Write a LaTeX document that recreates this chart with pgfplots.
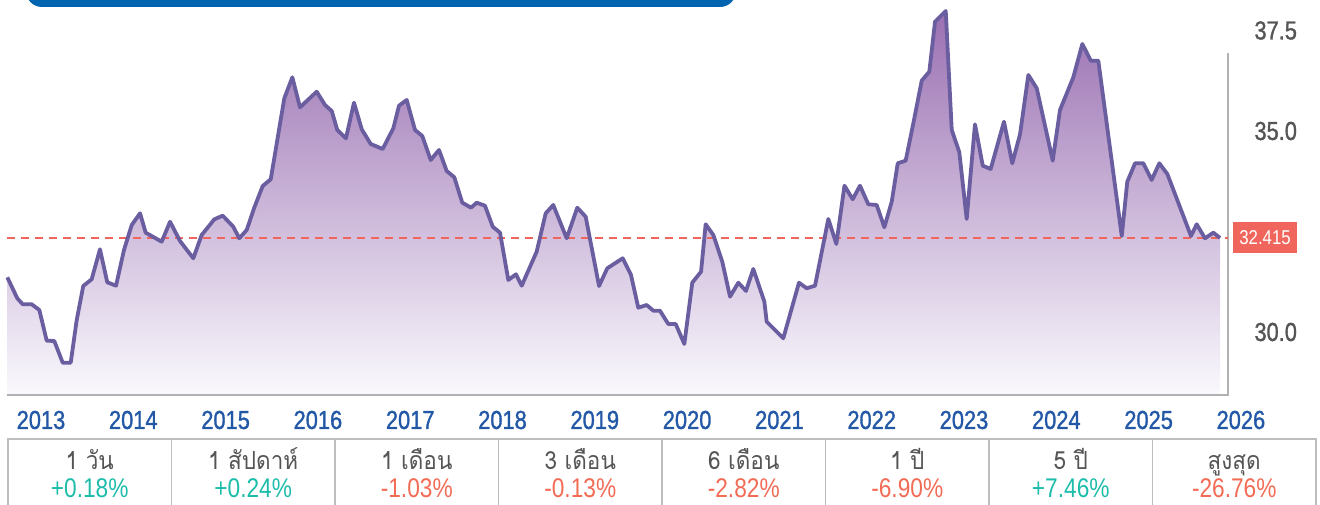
\documentclass[border=0pt]{standalone}
\usepackage{pgfplots}
\usepackage{pgfplotstable}
\pgfplotsset{compat=1.18}
\usepackage{fontspec}
\setmainfont{Liberation Sans}[FakeStretch=0.84]
\newfontfamily\semib{Liberation Sans}[FakeStretch=0.84,FakeBold=1.2]
\newfontfamily\thai[Script=Thai,FakeStretch=0.9]{Loma}
\definecolor{lineC}{HTML}{6A5EA0}
\definecolor{topC}{HTML}{9A70B2}
\definecolor{midC}{HTML}{B3AAD3}
\definecolor{botC}{HTML}{FAF9FD}
\definecolor{refC}{HTML}{F0655C}
\definecolor{yearC}{HTML}{2358A6}
\definecolor{tickC}{HTML}{555555}
\definecolor{posC}{HTML}{1CBCAA}
\definecolor{negC}{HTML}{F26B55}
\definecolor{gridC}{HTML}{BDBDBD}
\definecolor{bannerC}{HTML}{0064B0}
\pgfplotstableread{
t v
2012.635 31.435
2012.743 30.913
2012.802 30.764
2012.899 30.764
2012.982 30.622
2013.062 29.858
2013.144 29.851
2013.235 29.311
2013.322 29.311
2013.387 30.373
2013.458 31.219
2013.549 31.386
2013.639 32.132
2013.718 31.311
2013.813 31.226
2013.899 32.114
2013.983 32.736
2014.073 33.027
2014.134 32.545
2014.308 32.321
2014.398 32.818
2014.506 32.338
2014.650 31.908
2014.741 32.488
2014.878 32.878
2014.969 32.968
2015.083 32.694
2015.148 32.405
2015.229 32.612
2015.308 33.152
2015.402 33.706
2015.489 33.873
2015.636 35.888
2015.723 36.410
2015.806 35.664
2015.987 36.052
2016.077 35.721
2016.150 35.572
2016.210 35.100
2016.304 34.893
2016.391 35.779
2016.475 35.117
2016.572 34.751
2016.702 34.627
2016.817 35.142
2016.879 35.704
2016.962 35.846
2017.052 35.100
2017.131 34.950
2017.222 34.353
2017.312 34.602
2017.395 34.080
2017.478 33.923
2017.564 33.291
2017.659 33.167
2017.720 33.291
2017.810 33.216
2017.894 32.694
2017.973 32.545
2018.063 31.368
2018.146 31.510
2018.208 31.226
2018.370 32.072
2018.468 33.027
2018.550 33.234
2018.695 32.405
2018.810 33.167
2018.901 32.943
2019.046 31.219
2019.135 31.659
2019.302 31.908
2019.392 31.493
2019.471 30.679
2019.562 30.746
2019.634 30.604
2019.706 30.604
2019.796 30.274
2019.876 30.274
2019.970 29.776
2020.056 31.301
2020.151 31.575
2020.201 32.754
2020.284 32.488
2020.381 31.823
2020.465 30.953
2020.555 31.301
2020.638 31.095
2020.717 31.642
2020.837 30.828
2020.862 30.331
2021.042 29.918
2021.212 31.301
2021.296 31.162
2021.386 31.226
2021.530 32.886
2021.617 32.264
2021.705 33.714
2021.794 33.376
2021.873 33.714
2021.963 33.251
2022.054 33.234
2022.137 32.679
2022.217 33.316
2022.282 34.271
2022.368 34.336
2022.451 35.266
2022.542 36.326
2022.624 36.550
2022.686 37.794
2022.802 38.060
2022.867 35.100
2022.949 34.545
2023.029 32.886
2023.119 35.241
2023.203 34.211
2023.289 34.129
2023.433 35.306
2023.523 34.271
2023.607 34.993
2023.697 36.468
2023.788 36.137
2023.961 34.336
2024.040 35.597
2024.184 36.410
2024.282 37.239
2024.373 36.824
2024.455 36.824
2024.709 32.463
2024.769 33.813
2024.853 34.271
2024.943 34.271
2025.033 33.856
2025.116 34.271
2025.203 34.005
2025.459 32.463
2025.521 32.754
2025.611 32.405
2025.701 32.545
2025.774 32.415
}\data
\begin{document}
\begin{tikzpicture}
\useasboundingbox (0,0) rectangle (660pt,252pt);
\begin{axis}[
  at={(0,0)}, anchor=south west,
  width=660pt, height=252pt, scale only axis,
  xmin=2012.5558, xmax=2026.857,
  ymin=25.796, ymax=38.333,
  clip=false,
  axis line style={draw=none},
  major tick length=0pt,
  xtick=\empty,
  ytick={30,35,37.5},
  yticklabel pos=right,
  yticklabels={30.0,35.0,37.5},
  yticklabel style={anchor=east, xshift=-8pt, yshift=1.5pt, font=\semib\fontsize{13}{14}\selectfont, text=tickC},
]
\addplot[draw=none, top color=topC, middle color=midC, bottom color=botC]
  table[x=t,y=v] {\data} |- (axis cs:2012.635,28.507) -- cycle;
\draw[gridC!80!gray, line width=0.7pt] (axis cs:2012.635,28.507) -- (axis cs:2025.860,28.507) -- (axis cs:2025.860,37.015);
\addplot[refC, line width=1pt, dash pattern=on 4pt off 3pt] coordinates {(2012.635,32.415) (2025.860,32.415)};
\addplot[lineC, line width=1.9pt, line join=round] table[x=t,y=v] {\data};
\node[fill=refC, text=white, minimum width=32pt, minimum height=15.5pt, inner sep=0pt, font=\fontsize{10}{11}\selectfont] at (axis cs:2026.261,32.415) {32.415};
\end{axis}
\begin{scope}[x=0.5pt,y=-0.5pt,yshift=252pt]
  \begin{scope}
    \clip (0,0) rectangle (1320,504);
    \fill[bannerC, rounded corners=8pt] (26,-40) rectangle (736,7);
  \end{scope}
  \foreach \k in {0,...,13} {
    \pgfmathtruncatemacro{\yr}{2013+\k}
    \node[text=yearC, font=\semib\fontsize{13}{14}\selectfont] at ({41+92.3*\k},420) {\yr};
  }
  \draw[gridC, line width=0.6pt] (8,520) -- (8,439) -- (1316,439) -- (1316,520);
  \foreach \k in {1,...,7} { \draw[gridC, line width=0.6pt] ({8+163.5*\k},439) -- ({8+163.5*\k},520); }
  \foreach \lab/\val/\col [count=\i from 0] in {{1 วัน}/{+0.18\%}/posC, {1 สัปดาห์}/{+0.24\%}/posC, {1 เดือน}/{-1.03\%}/negC, {3 เดือน}/{-0.13\%}/negC, {6 เดือน}/{-2.82\%}/negC, {1 ปี}/{-6.90\%}/negC, {5 ปี}/{+7.46\%}/posC, {สูงสุด}/{-26.76\%}/negC} {
    \node[text=tickC, inner sep=0pt, anchor=base, font=\thai\fontsize{12.5}{13}\selectfont] at ({8+163.5*(\i+0.5)},469) {\lab};
    \node[text=\col, inner sep=0pt, anchor=base, font=\fontsize{13.5}{14}\selectfont] at ({8+163.5*(\i+0.5)},497.5) {\val};
  }
\end{scope}
\end{tikzpicture}
\end{document}
